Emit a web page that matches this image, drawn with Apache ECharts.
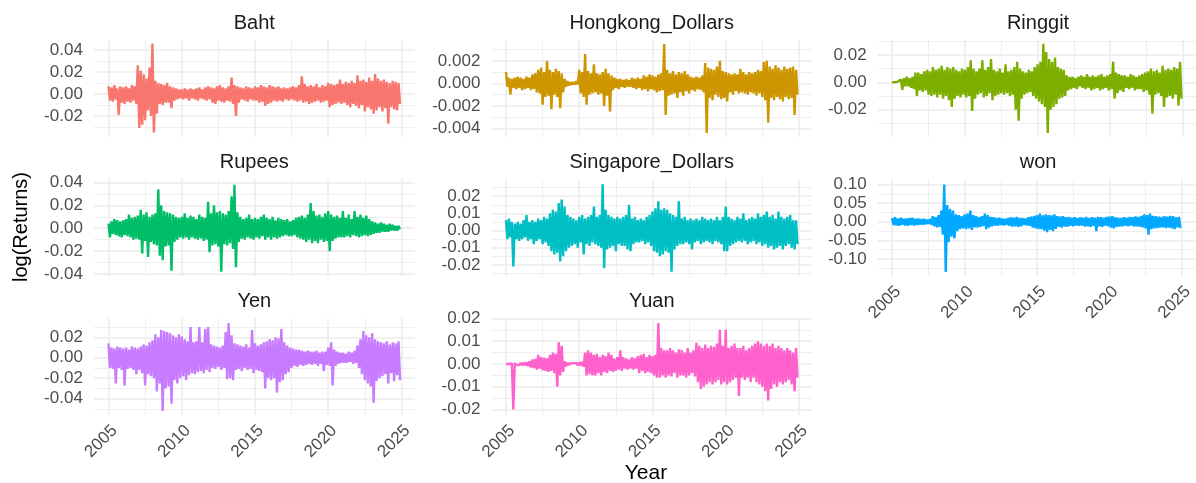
<!DOCTYPE html>
<html><head><meta charset="utf-8">
<script src="https://cdn.jsdelivr.net/npm/echarts@6/dist/echarts.min.js"></script>
<style>html,body{margin:0;padding:0;background:#fff}#c{width:1196px;height:483px}</style>
</head><body><div id="c"></div>
<script>
// ---------- DATA ----------
const panelNames = ['Baht','Hongkong_Dollars','Ringgit','Rupees','Singapore_Dollars','won','Yen','Yuan'];
const xTickLabels = [2005, 2010, 2015, 2020, 2025];
const xLimits = [2004.0, 2025.9];
const startYear = 2005.0, endYear = 2024.9;

// y tick labels per panel
const bahtTicks = [-0.02, 0, 0.02, 0.04];
const hkTicks = [-0.004, -0.002, 0, 0.002];
const ringgitTicks = [-0.02, 0, 0.02];
const rupeesTicks = [-0.04, -0.02, 0, 0.02, 0.04];
const singaporeTicks = [-0.02, -0.01, 0, 0.01, 0.02];
const wonTicks = [-0.10, -0.05, 0, 0.05, 0.10];
const yenTicks = [-0.04, -0.02, 0, 0.02];
const yuanTicks = [-0.02, -0.01, 0, 0.01, 0.02];

// y limits per panel
const bahtLim = [-0.0392, 0.0491];
const hkLim = [-0.00476, 0.00385];
const ringgitLim = [-0.0399, 0.0308];
const rupeesLim = [-0.0417, 0.0430];
const singaporeLim = [-0.0265, 0.0300];
const wonLim = [-0.146, 0.115];
const yenLim = [-0.0559, 0.0388];
const yuanLim = [-0.0224, 0.0202];

// log returns (alternating bin high / low), 2005.0 -> 2024.9
const baht = [
 .007,-.006,.006,-.007,.008,-.005,.005,-.019,.007,-.008,
 .006,-.009,.007,-.007,.005,-.008,.008,-.006,.007,-.009,
 .026,-.031,.021,-.028,.018,-.024,.014,-.015,.024,-.02,
 .046,-.035,.012,-.018,.01,-.009,.009,-.01,.008,-.008,
 .01,-.008,.007,-.013,.006,-.006,.005,-.005,.004,-.004,
 .004,-.005,.005,-.004,.004,-.006,.005,-.004,.004,-.005,
 .005,-.006,.006,-.004,.004,-.005,.006,-.006,.007,-.005,
 .006,-.008,.005,-.009,.007,-.006,.008,-.007,.006,-.008,
 .005,-.006,.007,-.007,.015,-.009,.008,-.02,.007,-.008,
 .006,-.005,.005,-.006,.007,-.007,.006,-.005,.005,-.006,
 .007,-.006,.006,-.008,.008,-.007,.007,-.011,.006,-.009,
 .008,-.008,.007,-.006,.006,-.007,.007,-.006,.005,-.007,
 .006,-.005,.005,-.006,.006,-.005,.007,-.006,.006,-.007,
 .008,-.006,.016,-.008,.009,-.007,.007,-.009,.008,-.008,
 .007,-.007,.009,-.006,.006,-.008,.008,-.007,.007,-.006,
 .01,-.012,.009,-.01,.008,-.009,.009,-.008,.013,-.009,
 .009,-.008,.011,-.01,.01,-.012,.012,-.009,.01,-.011,
 .017,-.013,.012,-.01,.013,-.016,.011,-.012,.015,-.014,
 .012,-.018,.018,-.015,.014,-.012,.012,-.016,.013,-.013,
 .011,-.027,.01,-.012,.012,-.014,.011,-.015,.01,-.009
];
const hongkong = [
 .001,-.0003,.0005,-.001,.0004,-.0004,.0005,-.0005,.0006,-.0004,
 .0005,-.0006,.0004,-.0005,.0006,-.0004,.0005,-.0006,.0008,-.0005,
 .0009,-.0008,.0012,-.0009,.0014,-.0019,.001,-.0012,.002,-.0011,
 .0012,-.0023,.001,-.001,.0013,-.0012,.0011,-.0022,.0009,-.0008,
 .0004,-.0003,.0002,-.0002,.0001,-.0001,.0001,-.0001,.0002,-.0001,
 .0012,-.0009,.001,-.0012,.0026,-.0019,.0011,-.001,.0009,-.0009,
 .0017,-.0008,.0009,-.001,.0008,-.0009,.001,-.002,.0013,-.0011,
 .0009,-.0025,.0007,-.0006,.0005,-.0004,.0004,-.0005,.0004,-.0003,
 .0003,-.0004,.0004,-.0003,.0003,-.0003,.0005,-.0004,.0004,-.0005,
 .0005,-.0004,.0004,-.0006,.0007,-.0005,.0006,-.0007,.0008,-.0005,
 .0007,-.0006,.0006,-.0008,.0008,-.0007,.0009,-.0006,.0035,-.0028,
 .0012,-.0011,.0009,-.001,.0011,-.0009,.0008,-.0013,.001,-.0008,
 .0009,-.0011,.0011,-.0007,.0008,-.0009,.0006,-.0006,.0005,-.0007,
 .0006,-.0005,.0005,-.0006,.0007,-.0008,.0018,-.0044,.0014,-.0013,
 .0013,-.0015,.0012,-.001,.0015,-.0012,.002,-.0014,.0011,-.0013,
 .001,-.0016,.0009,-.0008,.0008,-.001,.0009,-.0007,.0008,-.0009,
 .0013,-.0008,.001,-.0009,.0008,-.001,.001,-.0008,.0009,-.0009,
 .001,-.0011,.0012,-.0009,.0011,-.0012,.0019,-.0015,.002,-.0035,
 .0015,-.0013,.0013,-.0015,.0016,-.0012,.0014,-.0014,.0012,-.0016,
 .0015,-.0012,.0013,-.0014,.0014,-.0013,.0015,-.0028,.0012,-.001
];
const ringgit = [
 0,0,0,0,.0005,-.0003,.002,-.0055,.003,-.003,
 .004,-.003,.003,-.004,.004,-.005,.007,-.01,.007,-.006,
 .006,-.007,.008,-.006,.009,-.009,.008,-.01,.011,-.009,
 .009,-.011,.01,-.009,.012,-.012,.009,-.01,.011,-.013,
 .01,-.018,.011,-.012,.009,-.01,.008,-.011,.01,-.009,
 .009,-.011,.011,-.01,.016,-.021,.01,-.012,.008,-.009,
 .01,-.008,.016,-.011,.009,-.01,.011,-.008,.017,-.013,
 .009,-.01,.008,-.009,.01,-.008,.007,-.009,.013,-.008,
 .008,-.01,.009,-.009,.011,-.02,.015,-.028,.01,-.012,
 .008,-.009,.007,-.008,.009,-.007,.008,-.01,.011,-.012,
 .013,-.014,.015,-.016,.028,-.018,.022,-.037,.017,-.02,
 .015,-.018,.018,-.016,.011,-.012,.01,-.011,.009,-.01,
 .005,-.006,.004,-.005,.004,-.004,.003,-.005,.004,-.003,
 .005,-.004,.004,-.005,.006,-.004,.004,-.006,.005,-.005,
 .004,-.004,.005,-.006,.006,-.005,.004,-.004,.005,-.006,
 .006,-.005,.015,-.012,.007,-.008,.006,-.006,.005,-.007,
 .005,-.004,.004,-.005,.006,-.004,.005,-.006,.004,-.005,
 .005,-.005,.006,-.007,.007,-.006,.008,-.009,.01,-.023,
 .008,-.009,.009,-.008,.007,-.01,.012,-.018,.009,-.011,
 .01,-.01,.009,-.012,.011,-.009,.01,-.017,.015,-.012
];
const rupees = [
 .004,-.008,.006,-.005,.008,-.006,.007,-.007,.006,-.008,
 .007,-.006,.008,-.007,.012,-.008,.009,-.01,.01,-.009,
 .011,-.01,.016,-.022,.012,-.011,.014,-.025,.01,-.012,
 .012,-.014,.013,-.015,.034,-.024,.02,-.028,.015,-.016,
 .014,-.015,.013,-.037,.012,-.012,.01,-.01,.009,-.008,
 .01,-.009,.013,-.008,.009,-.01,.011,-.008,.01,-.009,
 .008,-.01,.012,-.009,.01,-.011,.009,-.01,.023,-.021,
 .013,-.015,.02,-.014,.014,-.016,.015,-.038,.013,-.014,
 .012,-.015,.015,-.013,.028,-.018,.038,-.034,.014,-.012,
 .01,-.009,.008,-.01,.009,-.008,.012,-.009,.008,-.01,
 .009,-.008,.008,-.009,.01,-.007,.012,-.01,.009,-.008,
 .008,-.01,.01,-.008,.007,-.009,.009,-.008,.008,-.007,
 .007,-.006,.008,-.007,.006,-.007,.007,-.006,.009,-.008,
 .01,-.009,.011,-.01,.009,-.012,.012,-.01,.022,-.013,
 .015,-.011,.011,-.013,.012,-.01,.01,-.012,.013,-.011,
 .015,-.02,.012,-.011,.01,-.009,.011,-.008,.009,-.008,
 .015,-.008,.009,-.007,.012,-.008,.008,-.006,.015,-.007,
 .01,-.008,.012,-.007,.009,-.006,.011,-.007,.008,-.006,
 .006,-.005,.005,-.004,.004,-.004,.005,-.003,.004,-.003,
 .003,-.003,.004,-.002,.003,-.002,.002,-.002,.002,-.001
];
const singapore = [
 .006,-.005,.007,-.004,.005,-.021,.004,-.005,.005,-.006,
 .004,-.005,.006,-.004,.009,-.006,.005,-.005,.006,-.008,
 .005,-.006,.007,-.005,.006,-.008,.008,-.007,.007,-.009,
 .01,-.012,.012,-.014,.011,-.013,.016,-.018,.018,-.015,
 .014,-.012,.009,-.01,.008,-.009,.007,-.008,.006,-.01,
 .008,-.007,.009,-.014,.007,-.008,.008,-.009,.009,-.007,
 .014,-.008,.008,-.009,.009,-.01,.027,-.022,.012,-.011,
 .009,-.01,.008,-.009,.007,-.012,.008,-.008,.007,-.009,
 .008,-.009,.009,-.011,.015,-.012,.007,-.008,.008,-.007,
 .006,-.007,.007,-.006,.006,-.008,.008,-.007,.009,-.009,
 .011,-.012,.013,-.013,.017,-.015,.012,-.014,.013,-.012,
 .012,-.013,.01,-.024,.009,-.011,.008,-.009,.017,-.008,
 .007,-.008,.008,-.007,.006,-.008,.007,-.011,.006,-.007,
 .007,-.006,.006,-.008,.008,-.007,.007,-.006,.006,-.007,
 .007,-.008,.006,-.006,.008,-.007,.006,-.008,.008,-.012,
 .014,-.012,.008,-.009,.007,-.008,.006,-.007,.008,-.006,
 .007,-.007,.01,-.006,.006,-.008,.007,-.007,.008,-.006,
 .007,-.008,.01,-.007,.008,-.009,.009,-.008,.011,-.01,
 .008,-.009,.009,-.011,.007,-.01,.011,-.009,.008,-.011,
 .007,-.009,.008,-.008,.009,-.01,.006,-.011,.006,-.008
];
const won = [
 .01,-.009,.012,-.01,.009,-.011,.011,-.008,.008,-.01,
 .009,-.011,.01,-.009,.011,-.01,.008,-.009,.009,-.008,
 .007,-.008,.008,-.007,.006,-.006,.007,-.008,.015,-.012,
 .012,-.015,.018,-.014,.03,-.035,.1,-.135,.045,-.055,
 .035,-.04,.03,-.045,.02,-.025,.018,-.02,.015,-.018,
 .02,-.02,.022,-.018,.03,-.022,.018,-.015,.015,-.016,
 .012,-.014,.015,-.012,.022,-.02,.018,-.016,.013,-.012,
 .012,-.01,.01,-.011,.011,-.009,.009,-.01,.008,-.009,
 .01,-.011,.012,-.013,.011,-.012,.013,-.014,.01,-.012,
 .01,-.009,.009,-.01,.012,-.011,.014,-.016,.016,-.018,
 .018,-.02,.022,-.02,.017,-.024,.02,-.028,.018,-.022,
 .017,-.025,.02,-.019,.015,-.014,.014,-.016,.015,-.013,
 .012,-.014,.013,-.011,.011,-.012,.012,-.01,.01,-.011,
 .012,-.01,.011,-.013,.013,-.012,.01,-.014,.012,-.011,
 .011,-.025,.013,-.012,.012,-.014,.011,-.01,.013,-.012,
 .014,-.016,.015,-.018,.012,-.014,.011,-.013,.01,-.012,
 .012,-.011,.011,-.012,.013,-.01,.012,-.013,.014,-.012,
 .013,-.014,.016,-.015,.02,-.018,.018,-.035,.022,-.02,
 .016,-.018,.015,-.017,.014,-.016,.013,-.015,.015,-.017,
 .014,-.016,.016,-.018,.015,-.02,.012,-.015,.013,-.017
];
const yen = [
 .014,-.01,.01,-.011,.009,-.025,.011,-.01,.01,-.012,
 .009,-.027,.01,-.011,.008,-.01,.011,-.012,.01,-.016,
 .009,-.012,.011,-.015,.013,-.027,.012,-.016,.015,-.018,
 .017,-.02,.023,-.033,.02,-.025,.027,-.052,.026,-.03,
 .025,-.028,.024,-.045,.022,-.022,.02,-.025,.023,-.02,
 .021,-.018,.018,-.022,.016,-.017,.03,-.015,.015,-.016,
 .016,-.014,.03,-.013,.015,-.015,.028,-.012,.03,-.014,
 .013,-.01,.012,-.011,.011,-.009,.01,-.012,.012,-.01,
 .025,-.021,.034,-.02,.022,-.022,.014,-.012,.013,-.011,
 .012,-.013,.011,-.01,.013,-.012,.01,-.011,.027,-.015,
 .014,-.012,.012,-.013,.013,-.014,.015,-.03,.016,-.02,
 .018,-.022,.017,-.02,.02,-.034,.019,-.024,.028,-.022,
 .015,-.016,.012,-.014,.01,-.01,.009,-.008,.008,-.009,
 .008,-.007,.007,-.008,.006,-.007,.007,-.006,.006,-.007,
 .006,-.006,.007,-.008,.005,-.006,.006,-.013,.006,-.007,
 .01,-.008,.015,-.027,.008,-.008,.006,-.006,.005,-.005,
 .005,-.005,.004,-.005,.006,-.004,.005,-.006,.007,-.005,
 .012,-.01,.018,-.016,.026,-.022,.022,-.025,.02,-.028,
 .024,-.044,.018,-.023,.016,-.02,.015,-.018,.014,-.016,
 .016,-.025,.013,-.015,.015,-.023,.014,-.017,.016,-.022
];
const yuan = [
 0,0,0,0,.0003,-.02,.0005,-.0004,.0004,-.0005,
 .0005,-.0006,.0006,-.0005,.0008,-.001,.0012,-.0015,.002,-.0018,
 .0022,-.0025,.004,-.002,.003,-.0028,.0028,-.003,.0025,-.0035,
 .004,-.003,.005,-.004,.0045,-.01,.0095,-.005,.008,-.0035,
 .0012,-.001,.0006,-.0005,.0004,-.0004,.0003,-.0003,.0005,-.0006,
 .0008,-.0007,.001,-.0012,.005,-.005,.006,-.0045,.005,-.005,
 .004,-.005,.0045,-.004,.003,-.005,.004,-.0035,.0035,-.004,
 .005,-.003,.004,-.0035,.0025,-.003,.003,-.0025,.006,-.003,
 .003,-.002,.0025,-.0025,.002,-.002,.003,-.0025,.0025,-.002,
 .0035,-.004,.004,-.003,.0045,-.004,.003,-.0035,.004,-.004,
 .0035,-.005,.004,-.006,.018,-.006,.007,-.005,.006,-.006,
 .006,-.005,.007,-.0055,.006,-.004,.005,-.006,.0065,-.005,
 .006,-.005,.005,-.006,.007,-.005,.005,-.004,.006,-.0055,
 .0093,-.008,.008,-.011,.007,-.01,.0085,-.009,.007,-.008,
 .008,-.009,.0075,-.008,.009,-.007,.015,-.009,.008,-.008,
 .015,-.009,.007,-.008,.008,-.007,.009,-.006,.007,-.014,
 .007,-.006,.008,-.007,.006,-.006,.007,-.008,.008,-.006,
 .009,-.008,.01,-.009,.009,-.01,.008,-.012,.009,-.016,
 .008,-.011,.009,-.009,.007,-.01,.008,-.008,.007,-.009,
 .006,-.008,.007,-.007,.006,-.009,.005,-.012,.007,-.006
];

const seriesValues = [baht, hongkong, ringgit, rupees, singapore, won, yen, yuan];
const seriesTicks = [bahtTicks, hkTicks, ringgitTicks, rupeesTicks, singaporeTicks, wonTicks, yenTicks, yuanTicks];
const seriesLims = [bahtLim, hkLim, ringgitLim, rupeesLim, singaporeLim, wonLim, yenLim, yuanLim];

// ---------- STYLE / LAYOUT ----------
const colors = ['#F8766D','#CD9600','#7CAE00','#00BE67','#00BFC4','#00A9FF','#C77CFF','#FF61CC'];
const FONT = '"Liberation Sans", Arial, sans-serif';
const colLeft = [93.85, 491.35, 877.65];
const rowTop = [40, 179, 318];
const panelW = 320.8, panelH = 97;
const showXLabels = [false,false,false,false,false,true,true,true];
const gridColor = '#EBEBEB';

const grids = [], xAxes = [], yAxes = [], series = [], titles = [];
panelNames.forEach((name, i) => {
  const r = Math.floor(i / 3), c = i % 3;
  grids.push({left: colLeft[c], top: rowTop[r], width: panelW, height: panelH, containLabel: false});
  xAxes.push({
    type: 'value', gridIndex: i, min: xLimits[0], max: xLimits[1],
    minInterval: xTickLabels[1] - xTickLabels[0], maxInterval: xTickLabels[1] - xTickLabels[0],
    axisLine: {show: false}, axisTick: {show: false},
    axisLabel: {
      show: showXLabels[i], rotate: 45, margin: 7, fontSize: 17, color: '#4D4D4D', fontFamily: FONT,
      align: 'right', verticalAlign: 'top',
      showMinLabel: false, showMaxLabel: false,
      formatter: v => xTickLabels.some(t => Math.abs(t - v) < 1e-6) ? String(Math.round(v)) : ''
    },
    splitLine: {show: true, showMinLine: false, showMaxLine: false, lineStyle: {color: gridColor, width: 1.5}},
    minorTick: {show: false, splitNumber: 2},
    minorSplitLine: {show: true, lineStyle: {color: gridColor, width: 0.8}}
  });
  const ticks = seriesTicks[i];
  const step = ticks[1] - ticks[0];
  const dec = Math.max(0, -Math.floor(Math.log10(step) + 1e-9));
  yAxes.push({
    type: 'value', gridIndex: i, min: seriesLims[i][0], max: seriesLims[i][1],
    minInterval: step, maxInterval: step,
    axisLine: {show: false}, axisTick: {show: false},
    axisLabel: {
      show: true, margin: 11, fontSize: 17, color: '#4D4D4D', fontFamily: FONT,
      showMinLabel: false, showMaxLabel: false,
      formatter: v => {
        const hit = ticks.find(t => Math.abs(t - v) < step * 1e-3);
        if (hit === undefined) return '';
        return (Math.abs(hit) < step * 1e-3 ? 0 : hit).toFixed(dec);
      }
    },
    splitLine: {show: true, showMinLine: false, showMaxLine: false, lineStyle: {color: gridColor, width: 1.5}},
    minorTick: {show: false, splitNumber: 2},
    minorSplitLine: {show: true, lineStyle: {color: gridColor, width: 0.8}}
  });
  const vals = seriesValues[i];
  const n = vals.length;
  series.push({
    type: 'line', xAxisIndex: i, yAxisIndex: i, name: name,
    data: vals.map((y, k) => [startYear + k * (endYear - startYear) / (n - 1), y]),
    showSymbol: false, symbol: 'none', silent: true, clip: true,
    lineStyle: {color: colors[i], width: 2.4}, itemStyle: {color: colors[i]}
  });
  titles.push({
    text: name, left: colLeft[c] + panelW / 2, top: rowTop[r] - 27, textAlign: 'center', padding: 0,
    textStyle: {fontSize: 20, fontWeight: 'normal', color: '#1A1A1A', fontFamily: FONT}
  });
});

const chart = echarts.init(document.getElementById('c'), null, {renderer: 'canvas'});
chart.setOption({
  animation: false,
  backgroundColor: '#FFFFFF',
  title: titles,
  grid: grids, xAxis: xAxes, yAxis: yAxes, series: series,
  graphic: [
    {type: 'text', x: 21, y: 227, rotation: Math.PI / 2,
     style: {text: 'log(Returns)', fontSize: 20, fontFamily: FONT, fill: '#000', align: 'center', verticalAlign: 'middle'}},
    {type: 'text', x: 646, y: 473,
     style: {text: 'Year', fontSize: 21, fontFamily: FONT, fill: '#000', align: 'center', verticalAlign: 'middle'}}
  ]
});
</script></body></html>
